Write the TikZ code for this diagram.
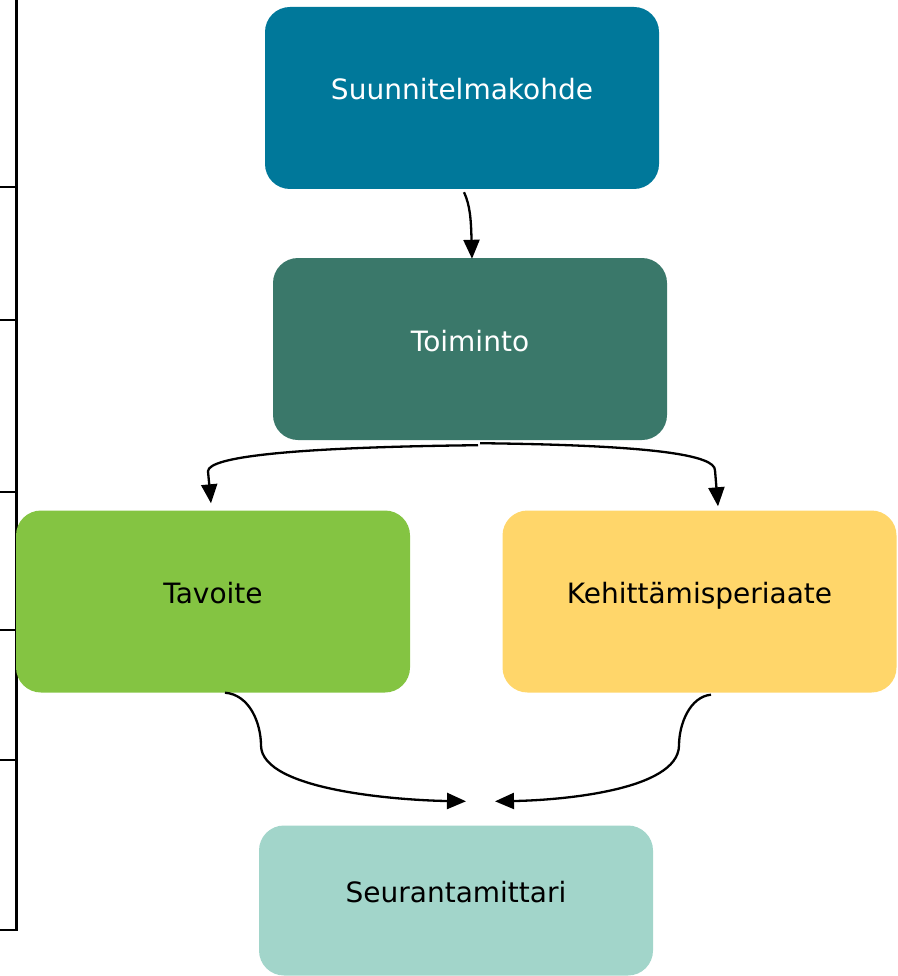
\documentclass[tikz,border=0pt]{standalone}
\usepackage{fontspec}
\setmainfont{DejaVu Sans}
\usetikzlibrary{arrows.meta,calc}

\definecolor{planblue}{RGB}{0,120,154}
\definecolor{actgreen}{RGB}{58,120,106}
\definecolor{goalgreen}{RGB}{132,196,66}
\definecolor{princyellow}{RGB}{255,214,106}
\definecolor{metermint}{RGB}{162,213,202}

\tikzset{
  box/.style={rectangle, rounded corners=25pt, inner sep=0pt,
    minimum width=394pt, minimum height=182pt,
    text height=22pt, text depth=18pt,
    font=\fontsize{28}{34}\selectfont},
  link/.style={line width=2.3pt, -{Triangle[length=19pt,width=16pt]}},
  rail/.style={line width=2.3pt}
}

\begin{document}
\begin{tikzpicture}[x=1pt,y=-1pt]
\useasboundingbox (0,0) rectangle (897,976);

% left margin rail with its tick marks
\draw[rail] (16.5,0) -- (16.5,930) -- (0,930);
\foreach \yy in {187,320,492,630,760}
  \draw[rail] (0,\yy) -- (16.5,\yy);

% boxes
\node[box, fill=planblue, text=white] (suun) at (462,98) {Suunnitelmakohde};
\node[box, fill=actgreen, text=white] (toim) at (470,349) {Toiminto};
\node[box, fill=goalgreen] (tav) at (213,601.5) {Tavoite};
\node[box, fill=princyellow] (keh) at (699.5,601.5) {Kehittämisperiaate};
\node[box, fill=metermint, minimum height=150pt] (seur) at (456,900.5) {Seurantamittari};

% free ends of the converging arrows above the meter box
\coordinate (meetL) at ($(seur.north)+(10,-24)$);
\coordinate (meetR) at ($(seur.north)+(39,-24)$);

% plan -> action
\draw[link] ($(suun.south)+(2,3)$) .. controls +(6,13) and +(-1,-40) .. ($(toim.north)+(2,1)$);

% action -> goal / principle
\draw[link] ($(toim.south)+(8,5)$) .. controls +(-180,2) and +(0,-15) .. ($(tav.north)+(-5,-39)$)
  -- ($(tav.north)+(-2,-7)$);
\draw[link] ($(toim.south)+(10,3)$) .. controls +(175,2) and +(0,-15) .. ($(keh.north)+(15.5,-40)$)
  -- ($(keh.north)+(18.5,-4)$);

% goal / principle -> meter
\draw[link] ($(tav.south)+(12,0)$) .. controls +(25,2) and +(0,-22) .. ($(tav.south)+(48,53)$)
  .. controls +(1,45) and +(-65,-1) .. (meetL);
\draw[link] ($(keh.south)+(11.5,2)$) .. controls +(-21,2) and +(0,-22) .. ($(keh.south)+(-20.5,53)$)
  .. controls +(-1,45) and +(64,-1) .. (meetR);
\end{tikzpicture}
\end{document}
